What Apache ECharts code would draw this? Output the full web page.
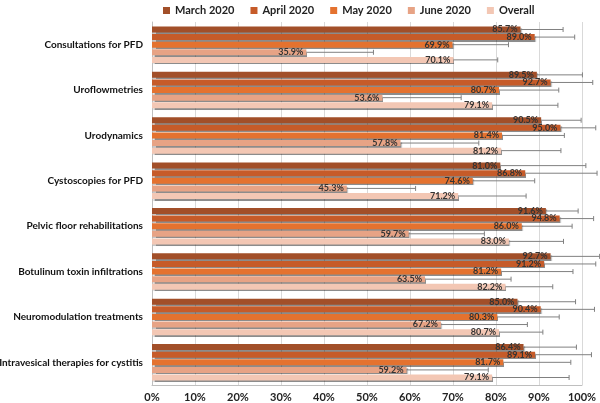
<!DOCTYPE html>
<html><head><meta charset="utf-8">
<script src="https://cdn.jsdelivr.net/npm/echarts@6/dist/echarts.min.js"></script>
<style>html,body{margin:0;padding:0;background:#fff}#c{width:600px;height:403px}</style>
</head><body><div id="c"></div>
<script>
const categories = ["Consultations for PFD","Uroflowmetries","Urodynamics","Cystoscopies for PFD","Pelvic floor rehabilitations","Botulinum toxin infiltrations","Neuromodulation treatments","Intravesical therapies for cystitis"];
const seriesNames = ["March 2020","April 2020","May 2020","June 2020","Overall"];
const march2020 = [85.7,89.5,90.5,81.0,91.6,92.7,85.0,86.4];
const april2020 = [89.0,92.7,95.0,86.8,94.8,91.2,90.4,89.1];
const may2020   = [69.9,80.7,81.4,74.6,86.0,81.2,80.3,81.7];
const june2020  = [35.9,53.6,57.8,45.3,59.7,63.5,67.2,59.2];
const overall   = [70.1,79.1,81.2,71.2,83.0,82.2,80.7,79.1];
// upper end of error bars
const marchUpper   = [95.6,100.1,99.8,100.9,99.1,104.1,98.5,98.7];
const aprilUpper   = [98.3,102.5,103.2,103.5,102.7,103.2,102.9,102.2];
const mayUpper     = [82.9,94.6,95.9,89.0,97.7,97.9,94.7,97.4];
const juneUpper    = [51.5,71.9,76.0,61.3,77.3,83.5,87.3,78.2];
const overallUpper = [80.4,94.4,95.1,87.0,95.7,93.2,90.9,97.0];
const xTicks = [0,10,20,30,40,50,60,70,80,90,100];

const values = [march2020,april2020,may2020,june2020,overall];
const uppers = [marchUpper,aprilUpper,mayUpper,juneUpper,overallUpper];
const colors = ["#a24f29","#c65b29","#e4722f","#e7a385","#f3c7b4"];
const BW = 6, GAP = 1.6;
const font = "Lato, 'Open Sans', sans-serif";

const series = [];
values.forEach((v,i)=>{
  series.push({
    name: seriesNames[i], type:'bar', data:v, barWidth:BW, barGap:(GAP/BW*100)+'%',
    itemStyle:{color:colors[i], shadowColor:'rgba(0,0,0,0.45)', shadowOffsetX:1, shadowOffsetY:1.5, shadowBlur:1},
    label:{show:true, position:'insideRight', distance:3, formatter:p=>p.value.toFixed(1)+'%',
      fontFamily:font, fontWeight:'bold', fontSize:9, color:'#333'},
    z:3
  });
});
values.forEach((v,i)=>{
  series.push({
    type:'custom', clip:false, z:4, silent:true,
    data: v.map((val,k)=>[val, uppers[i][k], k]),
    renderItem:(params,api)=>{
      const a = api.coord([api.value(0), api.value(2)]);
      const b = api.coord([api.value(1), api.value(2)]);
      const off = (i-2)*(BW+GAP);
      const y = a[1]+off;
      return {type:'group', children:[
        {type:'line', shape:{x1:a[0], y1:y, x2:b[0], y2:y}, style:{stroke:'#808080', lineWidth:1}},
        {type:'line', shape:{x1:b[0], y1:y-2.5, x2:b[0], y2:y+2.5}, style:{stroke:'#808080', lineWidth:1}}
      ]};
    },
    encode:{x:[0,1], y:2}
  });
});

const chart = echarts.init(document.getElementById('c'));
chart.setOption({
  animation:false,
  legend:{data:seriesNames, left:158, top:0, itemWidth:7, itemHeight:7, itemGap:16, icon:'rect',
    textStyle:{fontFamily:font, fontWeight:'bold', fontSize:11, color:'#222'}},
  grid:{left:152, right:18, top:22, bottom:18, containLabel:false, outerBoundsMode:'none'},
  xAxis:{type:'value', min:0, max:100, interval:10,
    axisLabel:{formatter:v=>xTicks.includes(v)?v+'%':'', fontFamily:font, fontWeight:'bold', fontSize:11, color:'#222', margin:7},
    splitLine:{lineStyle:{color:'#d9d9d9'}}, axisLine:{show:true, lineStyle:{color:'#bfbfbf'}}, axisTick:{show:false}},
  yAxis:{type:'category', data:categories, inverse:true,
    axisLabel:{fontFamily:font, fontWeight:'bold', fontSize:10, color:'#111', margin:9},
    axisLine:{show:true, lineStyle:{color:'#bfbfbf'}}, axisTick:{show:false}},
  series
});
</script></body></html>
